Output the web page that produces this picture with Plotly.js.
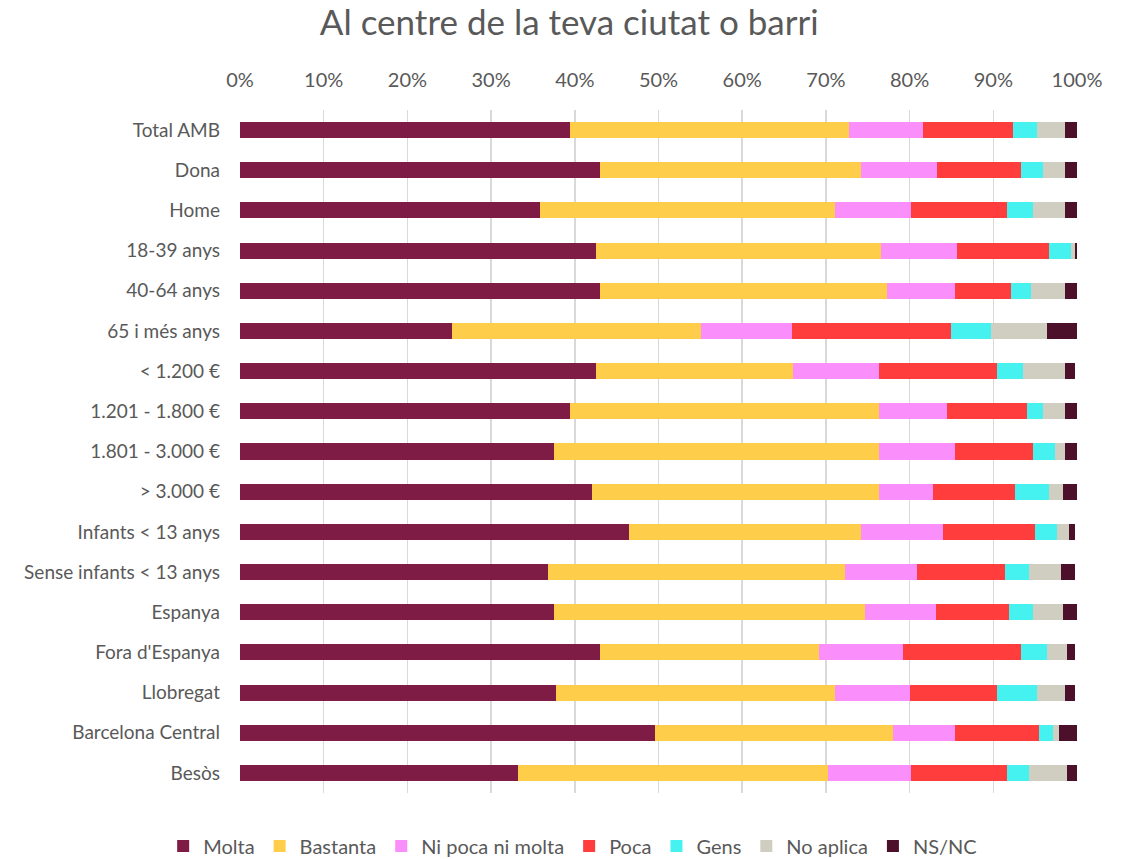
<!DOCTYPE html>
<html>
<head>
<meta charset="utf-8">
<script src="https://cdn.plot.ly/plotly-3.0.1.min.js"></script>
<style>html,body{margin:0;padding:0;background:#fff;}#chart{width:1134px;height:859px;}</style>
</head>
<body>
<div id="chart"></div>
<script>
var categories = ["Total AMB","Dona","Home","18-39 anys","40-64 anys","65 i més anys","< 1.200 €","1.201 - 1.800 €","1.801 - 3.000 €","> 3.000 €","Infants < 13 anys","Sense infants < 13 anys","Espanya","Fora d'Espanya","Llobregat","Barcelona Central","Besòs"];

var molta    = [39.4, 43.0, 35.8, 42.5, 43.0, 25.3, 42.5, 39.4, 37.5, 42.0, 46.5, 36.8, 37.5, 43.0, 37.7, 49.6, 33.2];
var bastanta = [33.4, 31.2, 35.3, 34.1, 34.3, 29.8, 23.6, 37.0, 38.9, 34.4, 27.7, 35.5, 37.2, 26.2, 33.4, 28.4, 37.0];
var niPoca   = [ 8.8,  9.1,  9.1,  9.1,  8.1, 10.8, 10.3,  8.1,  9.0,  6.4,  9.8,  8.6,  8.4, 10.0,  8.9,  7.4, 10.0];
var poca     = [10.8, 10.0, 11.4, 11.0,  6.7, 19.1, 14.1,  9.5,  9.3,  9.8, 11.0, 10.5,  8.8, 14.1, 10.5, 10.1, 11.4];
var gens     = [ 2.8,  2.6,  3.1,  2.6,  2.4,  4.7,  3.1,  1.9,  2.7,  4.1,  2.6,  2.9,  2.8,  3.1,  4.7,  1.6,  2.7];
var noAplica = [ 3.4,  2.7,  3.9,  0.5,  4.1,  6.7,  5.0,  2.7,  1.2,  1.6,  1.4,  3.8,  3.6,  2.4,  3.4,  0.8,  4.5];
var nsnc     = [ 1.4,  1.4,  1.4,  0.2,  1.4,  3.6,  1.2,  1.4,  1.4,  1.7,  0.8,  1.7,  1.7,  1.0,  1.2,  2.1,  1.2];

var seriesNames = ["Molta","Bastanta","Ni poca ni molta","Poca","Gens","No aplica","NS/NC"];
var seriesValues = [molta, bastanta, niPoca, poca, gens, noAplica, nsnc];
var seriesColors = ["#7E1C46","#FECE4A","#FA8EFB","#FF3D3D","#45F2F0","#D0CDC1","#4C102A"];

var traces = seriesNames.map(function(name, i){
  return {
    type: "bar",
    orientation: "h",
    name: name,
    y: categories,
    x: seriesValues[i],
    marker: {color: seriesColors[i], line: {width: 0}},
    hoverinfo: "name+x+y"
  };
});

var font = "Lato, 'Open Sans', sans-serif";
var layout = {
  width: 1134,
  height: 859,
  paper_bgcolor: "#ffffff",
  plot_bgcolor: "#ffffff",
  barmode: "stack",
  bargap: 0.6,
  margin: {l: 240, r: 57, t: 110, b: 66, autoexpand: false},
  title: {
    text: "Al centre de la teva ciutat o barri",
    font: {family: font, size: 35, color: "#595959"},
    x: 0.502, xanchor: "center", xref: "container",
    y: 0.973, yanchor: "middle"
  },
  xaxis: {
    side: "top",
    range: [0, 100],
    dtick: 10,
    tick0: 0,
    ticksuffix: "%",
    showgrid: true,
    gridcolor: "#D9D9D9",
    gridwidth: 1.5,
    zeroline: false,
    showline: false,
    ticks: "",
    ticklabelstandoff: 18,
    tickfont: {family: font, size: 20, color: "#595959"},
    fixedrange: true
  },
  yaxis: {
    autorange: "reversed",
    type: "category",
    showgrid: false,
    zeroline: false,
    showline: false,
    ticks: "",
    ticklabelstandoff: 19,
    tickfont: {family: font, size: 19, color: "#595959"},
    fixedrange: true
  },
  legend: {
    orientation: "h",
    xref: "container",
    yref: "container",
    x: 0.505, xanchor: "center",
    y: 0.015, yanchor: "middle",
    font: {family: font, size: 20, color: "#595959"},
    itemwidth: 30,
    traceorder: "normal"
  },
  showlegend: true
};

Plotly.newPlot("chart", traces, layout, {displayModeBar: false, staticPlot: true});
</script>
</body>
</html>
